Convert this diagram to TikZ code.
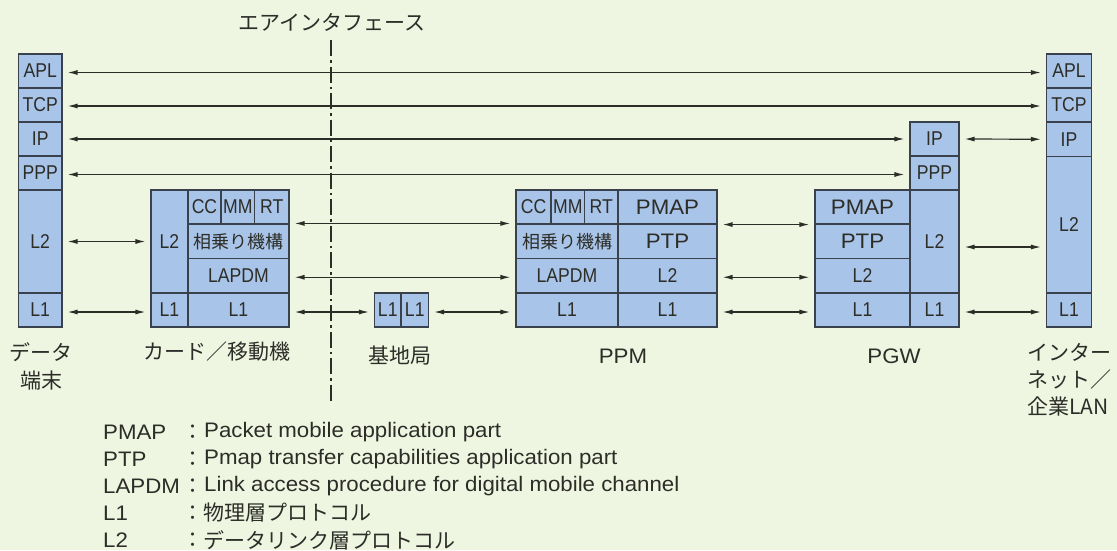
\documentclass[tikz,border=0pt]{standalone}
\usepackage{fontspec}
\setmainfont{Liberation Sans}
\newfontfamily\jpfam{Noto Sans CJK JP}
\newfontfamily\widefam[FakeStretch=1.06]{Liberation Sans}
\newfontfamily\condfam[FakeStretch=0.88]{Liberation Sans}
\usetikzlibrary{arrows.meta}
\newcommand\cellfnt{\condfam\fontsize{20}{23}\selectfont}
\newcommand\widefnt{\widefam\fontsize{21}{24}\selectfont}
\newcommand\jpfnt{\jpfam\fontsize{18}{21}\selectfont}
\newcommand\lblfnt{\jpfam\fontsize{21}{24}\selectfont}
\definecolor{bgc}{RGB}{238,246,226}
\definecolor{cellc}{RGB}{168,196,232}
\definecolor{edgec}{RGB}{57,66,76}
\definecolor{inkc}{RGB}{45,45,40}
\tikzset{
  cell/.style={draw=edgec, fill=cellc, line width=1.1pt, inner sep=0pt, text=inkc, font=\cellfnt},
  arr/.style={{Latex[length=10pt,width=5pt]}-{Latex[length=10pt,width=5pt]}, draw=inkc, line width=1.2pt, shorten <=5pt, shorten >=5pt},
  airline/.style={draw=inkc, line width=2pt, dash pattern=on 16pt off 4pt on 2.5pt off 4pt},
  lbl/.style={text=inkc, inner sep=0pt},
  leg/.style={text=inkc, inner sep=0pt, font=\widefnt},
}
\newcommand\cellbox[6]{%
  \node[cell, minimum width={(#4-#2)*1pt}, minimum height={(#5-#3)*1pt}] (#1) at ({(#2+#4)/2},{(#3+#5)/2}) {#6};}
\begin{document}
\begin{tikzpicture}[x=1pt,y=-1pt]
\fill[bgc] (0,0) rectangle (1117,550);
\useasboundingbox (0,0) rectangle (1117,550);

% air interface
\coordinate (airT) at (331,40);
\coordinate (airB) at (331,403);
\draw[airline] (airT) -- (airB);
\node[lbl, font=\lblfnt] (lblAir) at (332,22) {エアインタフェース};

% data terminal
\cellbox{dAPL}{18.5}{54}{62}{88}{APL}
\cellbox{dTCP}{18.5}{88}{62}{122}{TCP}
\cellbox{dIP}{18.5}{122}{62}{156}{IP}
\cellbox{dPPP}{18.5}{156}{62}{190}{PPP}
\cellbox{dLtwo}{18.5}{190}{62}{293}{L2}
\cellbox{dLone}{18.5}{293}{62}{327}{L1}

% card / mobile
\cellbox{cLtwo}{151}{190}{188}{293}{L2}
\cellbox{cLone}{151}{293}{188}{327}{L1}
\cellbox{cCC}{188}{190}{221}{224}{CC}
\cellbox{cMM}{221}{190}{254.5}{224}{MM}
\cellbox{cRT}{254.5}{190}{289}{224}{RT}
\cellbox{cSJ}{188}{224}{289}{258.5}{\jpfnt 相乗り機構}
\cellbox{cLAP}{188}{258.5}{289}{293}{LAPDM}
\cellbox{cLoneR}{188}{293}{289}{327}{L1}

% base station
\cellbox{bA}{374.5}{293}{401}{327}{L1}
\cellbox{bB}{401}{293}{428.5}{327}{L1}

% PPM
\cellbox{pCC}{516}{190}{551}{224}{CC}
\cellbox{pMM}{551}{190}{584.5}{224}{MM}
\cellbox{pRT}{584.5}{190}{618}{224}{RT}
\cellbox{pSJ}{516}{224}{618}{258.5}{\jpfnt 相乗り機構}
\cellbox{pLAP}{516}{258.5}{618}{293}{LAPDM}
\cellbox{pLoneL}{516}{293}{618}{327}{L1}
\cellbox{pPMAP}{618}{190}{717}{224}{\widefnt PMAP}
\cellbox{pPTP}{618}{224}{717}{258.5}{\widefnt PTP}
\cellbox{pLtwo}{618}{258.5}{717}{293}{L2}
\cellbox{pLoneR}{618}{293}{717}{327}{L1}

% PGW
\cellbox{gPMAP}{815}{190}{910}{224}{\widefnt PMAP}
\cellbox{gPTP}{815}{224}{910}{258.5}{\widefnt PTP}
\cellbox{gLtwoL}{815}{258.5}{910}{293}{L2}
\cellbox{gLoneL}{815}{293}{910}{327}{L1}
\cellbox{gIP}{910}{122}{959}{156}{IP}
\cellbox{gPPP}{910}{156}{959}{190}{PPP}
\cellbox{gLtwoR}{910}{190}{959}{293}{L2}
\cellbox{gLoneR}{910}{293}{959}{327}{L1}

% Internet / LAN
\cellbox{iAPL}{1046.5}{54}{1091.5}{88}{APL}
\cellbox{iTCP}{1046.5}{88}{1091.5}{122}{TCP}
\cellbox{iIP}{1046.5}{122}{1091.5}{156.5}{IP}
\cellbox{iLtwo}{1046.5}{156.5}{1091.5}{293}{L2}
\cellbox{iLone}{1046.5}{293}{1091.5}{327}{L1}

% connectors
\draw[arr] ([yshift=-1.5pt]dAPL.east) -- ([yshift=-1.5pt]iAPL.west);
\draw[arr] ([yshift=-1pt]dTCP.east) -- ([yshift=-1pt]iTCP.west);
\draw[arr] (dIP.east) -- (gIP.west);
\draw[arr] ([yshift=-1.5pt]dPPP.east) -- ([yshift=-1.5pt]gPPP.west);
\draw[arr] (dLtwo.east) -- (cLtwo.west);
\draw[arr] ([yshift=-2pt]dLone.east) -- ([yshift=-2pt]cLone.west);
\draw[arr] (cSJ.north east) -- (pSJ.north west);
\draw[arr] ([yshift=-1.5pt]cLAP.east) -- ([yshift=-1.5pt]pLAP.west);
\draw[arr] ([yshift=-2pt]cLoneR.east) -- ([yshift=-2pt]bA.west);
\draw[arr] ([yshift=-2pt]bB.east) -- ([yshift=-2pt]pLoneL.west);
\draw[arr] (pPMAP.south east) -- (gPMAP.south west);
\draw[arr] ([yshift=-1.5pt]pLtwo.east) -- ([yshift=-1.5pt]gLtwoL.west);
\draw[arr] ([yshift=-2pt]pLoneR.east) -- ([yshift=-2pt]gLoneL.west);
\draw[arr] (gIP.east) -- (iIP.west);
\draw[arr] ([yshift=-5.5pt]gLtwoR.east) -- ([yshift=-5.5pt]gLtwoR.east -| iLtwo.west);
\draw[arr] ([yshift=-2pt]gLoneR.east) -- ([yshift=-2pt]iLone.west);

% station labels
\node[lbl, font=\lblfnt, align=center] (lblData) at (41,366) {データ\\[4pt]端末};
\node[lbl, font=\lblfnt] (lblCard) at (217,352) {カード／移動機};
\node[lbl, font=\lblfnt] (lblBase) at (400,356) {基地局};
\node[lbl, font=\widefnt] (lblPPM) at (623,356) {PPM};
\node[lbl, font=\widefnt] (lblPGW) at (894,356) {PGW};
\node[lbl, font=\lblfnt, align=left, anchor=north west] (lblInet) at (1027,343) {インター\\[3pt]ネット／\\[3pt]企業LAN};

% legend
\node[leg, anchor=west] (kPMAP) at (103,432) {PMAP};
\node[leg, anchor=west] (kPTP) at (103,459) {PTP};
\node[leg, anchor=west] (kLAP) at (103,486) {LAPDM};
\node[leg, anchor=west] (kLone) at (103,513) {L1};
\node[leg, anchor=west] (kLtwo) at (103,540) {L2};
\node[lbl, font=\lblfnt] (cPMAP) at (193,432) {：};
\node[lbl, font=\lblfnt] (cPTP) at (193,459) {：};
\node[lbl, font=\lblfnt] (cLAPx) at (193,486) {：};
\node[lbl, font=\lblfnt] (cLonex) at (193,513) {：};
\node[lbl, font=\lblfnt] (cLtwox) at (193,540) {：};
\node[leg, anchor=west] (tPMAP) at (204,432) {Packet mobile application part};
\node[leg, anchor=west] (tPTP) at (204,459) {Pmap transfer capabilities application part};
\node[leg, anchor=west] (tLAP) at (204,486) {Link access procedure for digital mobile channel};
\node[lbl, font=\lblfnt, anchor=west] (tLone) at (203,513) {物理層プロトコル};
\node[lbl, font=\lblfnt, anchor=west] (tLtwo) at (203,540) {データリンク層プロトコル};
\end{tikzpicture}
\end{document}
